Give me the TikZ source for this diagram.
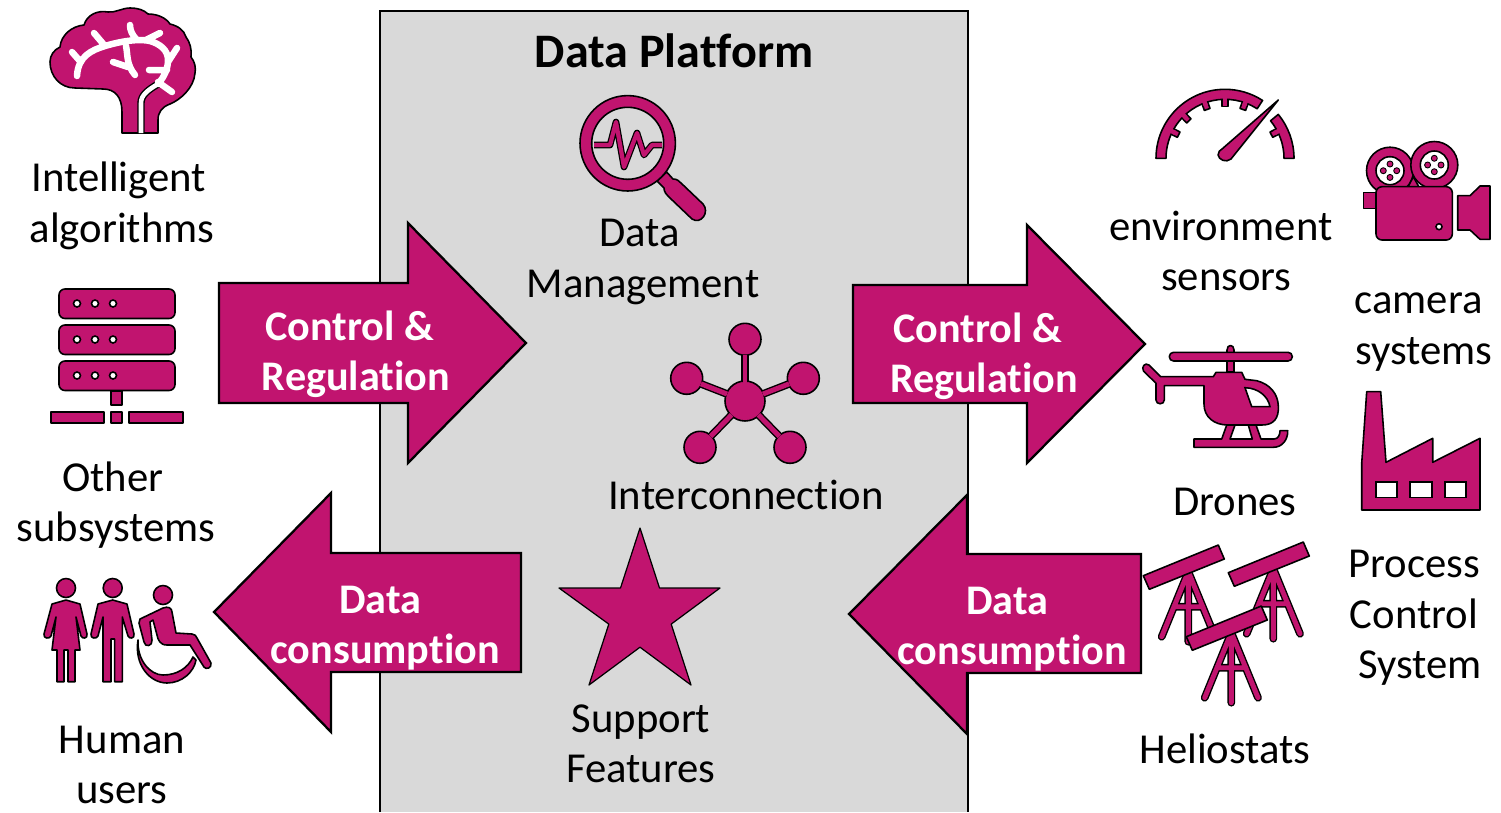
\documentclass[tikz,border=0pt]{standalone}
\usepackage{fontspec}
\setmainfont{Carlito}[Ligatures=NoCommon]
\usetikzlibrary{positioning}
\definecolor{plum}{HTML}{C1146F}
\definecolor{panel}{HTML}{D9D9D9}

\begin{document}
\begin{tikzpicture}[x=0.02cm,y=-0.02cm]
    \tikzstyle{icon}=[draw=black, fill=plum, line width=0.9pt, line join=round]
    \tikzstyle{hole}=[draw=black, fill=white, line width=0.9pt]
    \tikzstyle{wire}=[draw=black, line width=0.8pt, double=plum, double distance=2.8pt, line join=round]
    \tikzstyle{bigarrow}=[draw=black, fill=plum, line width=1.3pt, line join=miter]
    \tikzstyle{word}=[align=center, inner sep=0pt, font=\fontsize{24.3}{28.7}\selectfont]
    \tikzstyle{arrowword}=[word, text=white, font=\fontsize{24}{28.7}\selectfont\bfseries]
    \tikzstyle{hubdot}=[circle, icon, inner sep=0pt]
    \useasboundingbox (0,0) rectangle (1501,812);

    % platform
    \draw[fill=panel, draw=black, line width=1.2pt] (380,812) -- (380,11) -- (968,11) -- (968,812);
    \node[word, font=\fontsize{27.4}{32}\selectfont\bfseries] (platform) at (674,51) {Data Platform};

    % block arrows
    \draw[bigarrow] (219,283) -- (408,283) -- (408,223) -- (526,343) -- (408,463) -- (408,403) -- (219,403) -- cycle;
    \draw[bigarrow] (853,285) -- (1027,285) -- (1027,225) -- (1145,344) -- (1027,463) -- (1027,403) -- (853,403) -- cycle;
    \draw[bigarrow] (521,553) -- (331,553) -- (331,493) -- (214,612) -- (331,732) -- (331,672) -- (521,672) -- cycle;
    \draw[bigarrow] (1141,554) -- (967,554) -- (967,495) -- (849,614) -- (967,734) -- (967,673) -- (1141,673) -- cycle;
    \node[arrowword] (ctrlleft) at (356,354) {Control \&\hspace*{0.3em}\\Regulation};
    \node[arrowword] (ctrlright) at (984,356) {Control \&\hspace*{0.3em}\\Regulation};
    \node[arrowword] (useleft) at (385,628) {Data\hspace*{0.22em}\\consumption};
    \node[arrowword] (useright) at (1012,629) {Data\hspace*{0.22em}\\consumption};

    % brain
    \draw[icon] (122,133) -- (122,112) .. controls (122,97) and (115,89) .. (103,89) -- (75,88)
        .. controls (60,88) and (50,76) .. (50,62) .. controls (50,55) and (54,50) .. (60,47)
        .. controls (61,35) and (72,26) .. (84,25) .. controls (87,15) and (97,10) .. (108,12)
        .. controls (115,13) and (122,8) .. (130,8) .. controls (138,8) and (144,10) .. (148,14)
        .. controls (158,14) and (166,18) .. (170,24) .. controls (178,26) and (184,30) .. (186,37)
        .. controls (190,42) and (192,50) .. (191,57) .. controls (195,62) and (196,68) .. (195,73)
        .. controls (194,88) and (180,100) .. (170,104) .. controls (162,107) and (158,112) .. (158,120)
        -- (158,133) -- cycle;
    \path[wire, double=white, double distance=2.6pt] (141,133) -- (141,103) .. controls (141,95) and (148,90) .. (158,84);
    \draw[white, line width=3.7pt, line cap=round]
        (158,84) .. controls (165,76) and (168,68) .. (168,60) .. controls (168,50) and (160,44) .. (150,41) .. controls (135,38) and (115,43) .. (105,46) .. controls (92,50) and (78,56) .. (77,76)
        (105,46) -- (94,33) (79,60) -- (72,52) (137,40) .. controls (132,35) and (130,30) .. (130,25)
        (146,40) -- (160,33) (168,62) -- (177,48) (167,70) -- (149,70) (158,82) -- (172,92)
        (126,46) .. controls (128,55) and (126,64) .. (135,75) (128,67) -- (113,62);

    % server
    \foreach \rowtop in {289,325,361} {
        \draw[icon, rounded corners=3.4pt] (59,\rowtop) rectangle (175,\rowtop+29.5);
        \foreach \xdot in {77,95,113} {
            \draw[hole] (\xdot,\rowtop+14.5) circle (3.5);
        }
    }
    \draw[icon] (111,391) rectangle (122,405);
    \foreach \xa/\xb in {51/104,111/122,129/183} {
        \draw[icon] (\xa,412) rectangle (\xb,423);
    }

    % users
    \draw[icon] (66,588) circle (9.5);
    \draw[icon] (66,600) -- (52,604) -- (44,634) .. controls (43,639) and (50,639) .. (51,636) -- (56,617) -- (52,650) -- (57,650) -- (57,681.7) -- (64,681.7) -- (64,650) -- (68,650) -- (68,681.7) -- (75,681.7) -- (75,650) -- (80,650) -- (76,617) -- (81,636) .. controls (82,639) and (88,639) .. (87,634) -- (80,604) -- cycle;
    \draw[icon] (112.7,588) circle (9.5);
    \draw[icon] (112.7,600) -- (98,604) -- (91,634) .. controls (90,639) and (97,639) .. (98,636) -- (103,617) -- (103,681.7) -- (111,681.7) -- (111,639) -- (114.7,639) -- (114.7,681.7) -- (122.3,681.7) -- (122.3,617) -- (128,636) .. controls (129,639) and (135,639) .. (134,634) -- (127,604) -- cycle;
    \draw[icon] (163,595) circle (9.5);
    \draw[icon] (140,619) -- (163,608) .. controls (168,606) and (172,608) .. (172,612) -- (176,633) -- (192,634) .. controls (195,634) and (196,636) .. (197,638) -- (211,663) .. controls (212,668) and (206,670) .. (204,667) -- (190,645) -- (167,645) .. controls (160,645) and (158,640) .. (157,635) -- (153,620) -- (150,622) -- (152,640) .. controls (153,646) and (145,648) .. (144,642) -- (139,623) -- cycle;
    \draw[icon] (138,640) .. controls (134,665) and (150,683) .. (167,683) .. controls (182,683) and (194,672) .. (196,660) -- (193,657) .. controls (188,668) and (177,675) .. (163,675) .. controls (150,675) and (137,660) .. (138,640) -- cycle;

    % magnifier
    \draw[icon] (666.7,172) -- (673,179) .. controls (677,179) and (679,181) .. (681,183) -- (703,204) .. controls (710,212) and (701,225) .. (692,219) -- (670,198) .. controls (666,194) and (664,192) .. (664,188) -- (657,181) -- cycle;
    \draw[icon, even odd rule] (627.7,143.3) circle (47.7) (627.7,143.3) circle (36);
    \path[wire, line width=0.7pt, double distance=2.4pt] (594,145) -- (610,145) -- (616,122) -- (624,167) -- (637,133) -- (644,155) -- (652,145) -- (662,145);

    % hub
    \node[hubdot, minimum size=0.8cm] (hub) at (745,401) {};
    \foreach \name/\xhub/\yhub in {a/745/339.3,b/686.7/378.3,c/803.3/378.3,d/700/447.3,e/790/447.3} {
        \node[hubdot, minimum size=0.64cm] (hub\name) at (\xhub,\yhub) {};
    }
    \foreach \name in {a,b,c,d,e} {
        \path (hub) edge[wire, shorten <=-0.9pt, shorten >=-0.9pt] (hub\name);
    }

    % star
    \draw[icon, line width=0.7pt] (640,528) -- (659.5,588) -- (720,588) -- (671.2,624.1) -- (691,685) -- (640,647.2) -- (589,685) -- (608.8,624.1) -- (559,588) -- (620.5,588) -- cycle;

    % gauge
    \begin{scope}[shift={(1225,158.3)},x=0.02cm,y=0.02cm]
        \foreach \ang in {27,70,90,110,134,153} {
            \draw[icon, rotate=\ang] (52,-3) rectangle (60,3);
        }
        \draw[icon] (180:69) arc (180:57:69) -- (57:59) arc (57:180:59) -- cycle;
        \draw[icon] (39.5:69) arc (39.5:0:69) -- (0:59) arc (0:39.5:59) -- cycle;
        \foreach \ang in {27,70,90,110,134,153} {
            \fill[plum, rotate=\ang] (56,-2.2) rectangle (61,2.2);
        }
    \end{scope}
    \draw[icon] (1278.3,100) -- (1231,159) .. controls (1226,163) and (1219,160) .. (1218,155) .. controls (1218,152) and (1220,150) .. (1222,149) -- cycle;

    % camera
    \foreach \xreel/\yreel in {1390/170.7,1434.3/165} {
        \draw[icon] (\xreel,\yreel) circle (23.5);
        \draw[hole] (\xreel,\yreel) circle (14);
        \foreach \xd/\yd in {0/-6.7,-6.7/0,6.7/0,0/6.7} {
            \draw[icon, line width=0.5pt] (\xreel+\xd,\yreel+\yd) circle (3);
        }
    }
    \draw[icon] (1413.3,176.7) -- (1408,187) -- (1419,187) -- cycle;
    \draw[icon] (1363.3,192.3) -- (1376,192.3) -- (1376,208.3) -- (1363.3,208.3) -- cycle;
    \draw[icon, rounded corners=3.4pt] (1376,186.7) rectangle (1452.3,240);
    \draw[hole] (1439,226.7) circle (3);
    \draw[icon] (1457.7,195.7) -- (1470,195.7) -- (1480,186) -- (1490,186) -- (1490,239.3) -- (1480,239.3) -- (1470,230) -- (1457.7,230) -- cycle;

    % helicopter
    \draw[icon] (1227,372) -- (1227,350) .. controls (1227,344) and (1234,344) .. (1234,350) -- (1234,372) -- cycle;
    \draw[icon, rounded corners=2.4pt] (1169.3,352.3) rectangle (1292.3,361);
    \draw[icon] (1194,439) -- (1221.7,439) -- (1226.7,425) -- (1235,425) -- (1230,439) -- (1252.3,439) -- (1248.3,425) -- (1256,425) -- (1261,439) -- (1274,439) .. controls (1278,439) and (1280,435) .. (1280,430.7) -- (1287.7,430.7) .. controls (1288,440) and (1282,447.3) .. (1273.3,447.3) -- (1194,447.3) -- cycle;
    \draw[icon] (1216,372.3) -- (1241.7,372.3) -- (1245,379.3) -- (1256.7,380.7) .. controls (1270,384) and (1278,394) .. (1278.3,406) .. controls (1279,418) and (1274,425) .. (1262,425) -- (1228,425) .. controls (1214,425) and (1204,417) .. (1204,404) -- (1204,385.7) -- (1164.3,385.7) -- (1164.3,400) .. controls (1164.3,405) and (1156,405) .. (1156,400) -- (1156,383.3) -- (1143.5,371) .. controls (1141,367) and (1145,362) .. (1149,365) -- (1160.7,376.7) -- (1213.3,376.7) -- cycle;
    \draw[hole] (1245,387.7) -- (1251.7,406.7) -- (1270,406.7) .. controls (1268,396) and (1258,388) .. (1245,387.7) -- cycle;

    % factory
    \draw[icon] (1366.7,391.7) -- (1380.7,391.7) -- (1386,462.3) -- (1432.7,438.3) -- (1432.7,462.3) -- (1480,438.3) -- (1480,510) -- (1361.7,510) -- (1361.7,463.3) -- cycle;
    \foreach \xa/\xb in {1375.7/1396.7,1410/1431.7,1445/1466} {
        \draw[hole] (\xa,481.7) rectangle (\xb,497.3);
    }

    % heliostats
    \foreach \dx/\dy in {85/-3,0/0,43/61} {
        \begin{scope}[shift={(\dx,\dy)}]
            \path[wire, line cap=round] (1161.7,636.7) -- (1188.3,571.7) -- (1215,636.7) (1188.3,571.7) -- (1188.3,641.7) (1174,606.7) -- (1203,606.7);
            \draw[icon] (1143.3,575.7) -- (1218.3,545) -- (1224.3,559) -- (1149.3,589.3) -- cycle;
        \end{scope}
    }

    % labels
    \node[word] (intelligent) at (122,206) {Intelligent\hspace*{0.15em}\\algorithms};
    \node[word] (subsystems) at (116,505) {Other\hspace*{0.15em}\\subsystems};
    \node[word] (humans) at (122,765) {Human\\users};
    \node[word] (management) at (643,262) {Data\hspace*{0.15em}\\Management};
    \node[word] (interconnect) at (746,495) {Interconnection};
    \node[word] (support) at (641,744) {Support\\Features};
    \node[word] (environment) at (1221,251) {environment\\\hspace*{0.25em}sensors};
    \node[word] (camera) at (1424,332) {camera\hspace*{0.25em}\\systems};
    \node[word] (drones) at (1235,502) {Drones};
    \node[word] (process) at (1414,618) {Process\\Control\\\hspace*{0.27em}System};
    \node[word] (heliostats) at (1225,749) {Heliostats};
\end{tikzpicture}
\end{document}
